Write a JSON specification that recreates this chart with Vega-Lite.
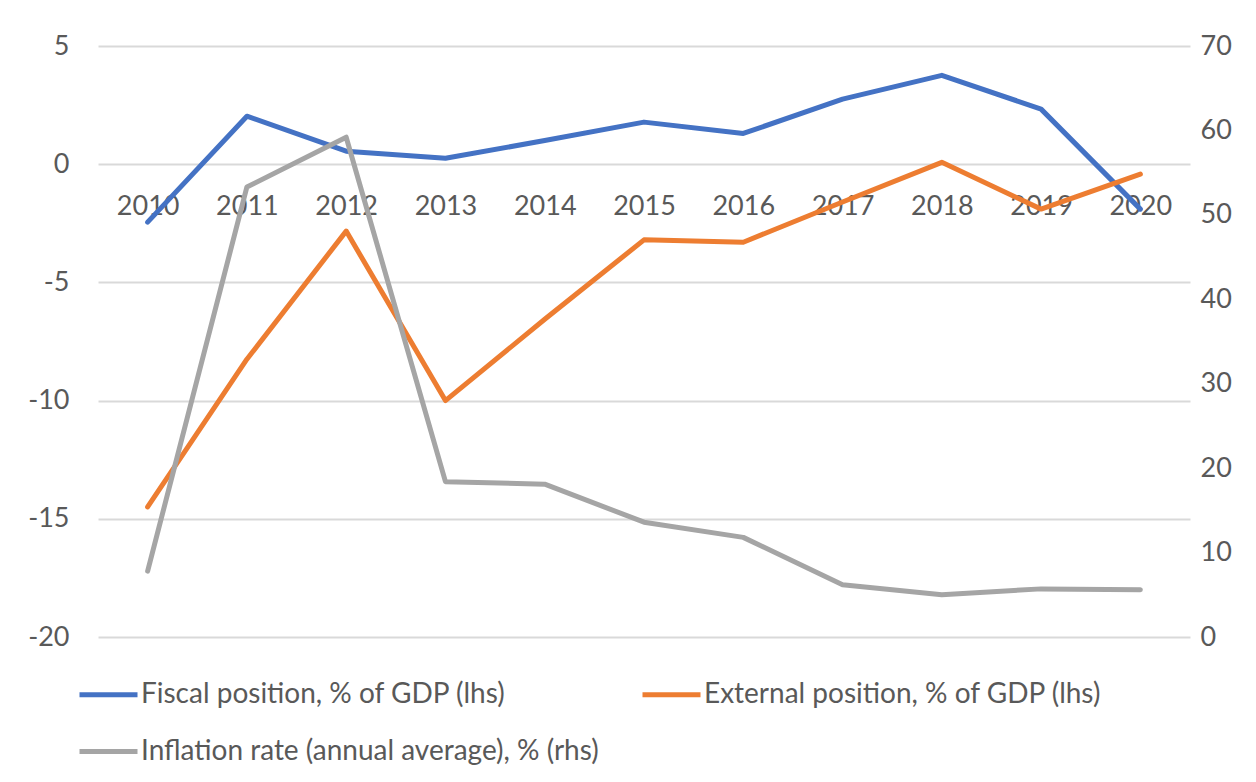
{
  "$schema": "https://vega.github.io/schema/vega-lite/v6.json",
  "width": 1092,
  "height": 591,
  "autosize": "none",
  "padding": {"left": 98, "top": 46, "right": 66, "bottom": 145},
  "background": "white",
  "config": {
    "font": "Lato",
    "view": {"stroke": null},
    "axis": {"labelColor": "#595959", "labelFontSize": 27, "ticks": false, "domain": false, "title": null, "labelFont": "Lato"}
  },
  "data": {
    "values": [
      {"year": "2010", "series": "Fiscal position, % of GDP (lhs)", "value": -2.45},
      {"year": "2011", "series": "Fiscal position, % of GDP (lhs)", "value": 2.03},
      {"year": "2012", "series": "Fiscal position, % of GDP (lhs)", "value": 0.55},
      {"year": "2013", "series": "Fiscal position, % of GDP (lhs)", "value": 0.25},
      {"year": "2014", "series": "Fiscal position, % of GDP (lhs)", "value": 1.0},
      {"year": "2015", "series": "Fiscal position, % of GDP (lhs)", "value": 1.78},
      {"year": "2016", "series": "Fiscal position, % of GDP (lhs)", "value": 1.3},
      {"year": "2017", "series": "Fiscal position, % of GDP (lhs)", "value": 2.75},
      {"year": "2018", "series": "Fiscal position, % of GDP (lhs)", "value": 3.76},
      {"year": "2019", "series": "Fiscal position, % of GDP (lhs)", "value": 2.33},
      {"year": "2020", "series": "Fiscal position, % of GDP (lhs)", "value": -1.9},
      {"year": "2010", "series": "External position, % of GDP (lhs)", "value": -14.5},
      {"year": "2011", "series": "External position, % of GDP (lhs)", "value": -8.25},
      {"year": "2012", "series": "External position, % of GDP (lhs)", "value": -2.83},
      {"year": "2013", "series": "External position, % of GDP (lhs)", "value": -10.0},
      {"year": "2014", "series": "External position, % of GDP (lhs)", "value": -6.56},
      {"year": "2015", "series": "External position, % of GDP (lhs)", "value": -3.2},
      {"year": "2016", "series": "External position, % of GDP (lhs)", "value": -3.3},
      {"year": "2017", "series": "External position, % of GDP (lhs)", "value": -1.6},
      {"year": "2018", "series": "External position, % of GDP (lhs)", "value": 0.08},
      {"year": "2019", "series": "External position, % of GDP (lhs)", "value": -1.9},
      {"year": "2020", "series": "External position, % of GDP (lhs)", "value": -0.42},
      {"year": "2010", "series": "Inflation rate (annual average), % (rhs)", "value": 7.8},
      {"year": "2011", "series": "Inflation rate (annual average), % (rhs)", "value": 53.3},
      {"year": "2012", "series": "Inflation rate (annual average), % (rhs)", "value": 59.2},
      {"year": "2013", "series": "Inflation rate (annual average), % (rhs)", "value": 18.4},
      {"year": "2014", "series": "Inflation rate (annual average), % (rhs)", "value": 18.1},
      {"year": "2015", "series": "Inflation rate (annual average), % (rhs)", "value": 13.6},
      {"year": "2016", "series": "Inflation rate (annual average), % (rhs)", "value": 11.8},
      {"year": "2017", "series": "Inflation rate (annual average), % (rhs)", "value": 6.2},
      {"year": "2018", "series": "Inflation rate (annual average), % (rhs)", "value": 5.0},
      {"year": "2019", "series": "Inflation rate (annual average), % (rhs)", "value": 5.7},
      {"year": "2020", "series": "Inflation rate (annual average), % (rhs)", "value": 5.6}
    ]
  },
  "encoding": {
    "x": {
      "field": "year",
      "type": "ordinal",
      "scale": {"padding": 0.5},
      "axis": {"orient": "bottom", "offset": -472, "labelPadding": 28, "labelAngle": 0, "grid": false}
    },
    "color": {
      "field": "series",
      "type": "nominal",
      "scale": {
        "domain": ["Fiscal position, % of GDP (lhs)", "Inflation rate (annual average), % (rhs)", "External position, % of GDP (lhs)"],
        "range": ["#4472C4", "#A5A5A5", "#ED7D31"]
      },
      "legend": {
        "orient": "none",
        "legendX": -21,
        "legendY": 617,
        "columns": 2,
        "title": null,
        "symbolType": "stroke",
        "symbolSize": 3364,
        "symbolStrokeWidth": 5,
        "labelFontSize": 28,
        "labelFont": "Lato",
        "labelColor": "#595959",
        "labelOffset": 1,
        "labelLimit": 800,
        "columnPadding": 33,
        "rowPadding": 11
      }
    }
  },
  "layer": [
    {
      "transform": [{"filter": "datum.series != 'Inflation rate (annual average), % (rhs)'"}],
      "mark": {"type": "line", "strokeWidth": 5, "strokeCap": "round", "strokeJoin": "round"},
      "encoding": {
        "y": {
          "field": "value",
          "type": "quantitative",
          "scale": {"domain": [-20, 5], "nice": false, "zero": false},
          "axis": {"orient": "left", "values": [-20, -15, -10, -5, 0, 5], "labelExpr": "'' + datum.value", "grid": true, "gridColor": "#d9d9d9", "gridWidth": 2, "labelPadding": 29}
        }
      }
    },
    {
      "transform": [{"filter": "datum.series == 'Inflation rate (annual average), % (rhs)'"}],
      "mark": {"type": "line", "strokeWidth": 5, "strokeCap": "round", "strokeJoin": "round"},
      "encoding": {
        "y": {
          "field": "value",
          "type": "quantitative",
          "scale": {"domain": [0, 70], "nice": false, "zero": false},
          "axis": {"orient": "right", "values": [0, 10, 20, 30, 40, 50, 60, 70], "grid": false, "labelPadding": 10}
        }
      }
    }
  ],
  "resolve": {"scale": {"y": "independent"}}
}
